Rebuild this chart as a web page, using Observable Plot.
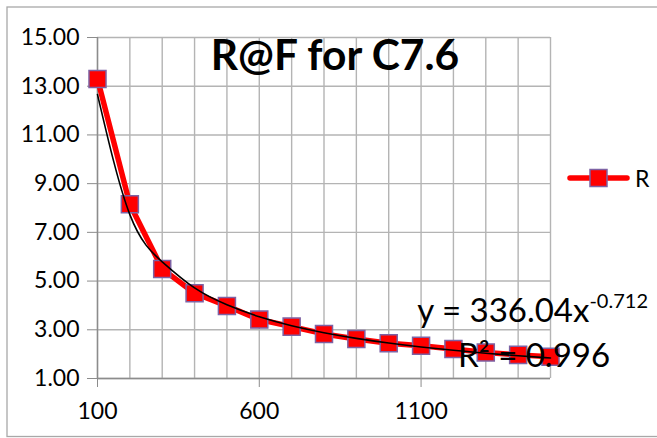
<!DOCTYPE html>
<html>
<head>
<meta charset="utf-8">
<script src="https://cdn.jsdelivr.net/npm/d3@7"></script>
<script src="https://cdn.jsdelivr.net/npm/@observablehq/plot@0.6"></script>
<style>
  html, body { margin: 0; padding: 0; background: #fff; }
  #chart { width: 657px; height: 438px; }
</style>
</head>
<body>
<div id="chart"></div>
<script>
// ---- data ----
const xValues = [100, 200, 300, 400, 500, 600, 700, 800, 900, 1000, 1100, 1200, 1300, 1400, 1500];
const rValues = [13.3, 8.15, 5.5, 4.5, 3.98, 3.42, 3.13, 2.83, 2.62, 2.45, 2.34, 2.21, 2.07, 1.97, 1.89];
const seriesName = "R";
const xTickLabels = [100, 600, 1100];
const xGridLines = [100, 200, 300, 400, 500, 600, 700, 800, 900, 1000, 1100, 1200, 1300, 1400, 1500];
const yTickLabels = [1, 3, 5, 7, 9, 11, 13, 15];
const trendA = 336.04;
const trendB = -0.712;
const trendR2 = 0.996;
const titleText = "R@F for C7.6";

const data = xValues.map((x, i) => ({x, r: rValues[i]}));
const trend = xValues.map(x => ({x, y: trendA * Math.pow(x, trendB)}));

const font = "Lato, 'Open Sans', sans-serif";

const plot = Plot.plot({
  width: 657,
  height: 438,
  marginLeft: 97,
  marginRight: 107,
  marginTop: 37,
  marginBottom: 60,
  style: {fontFamily: font, background: "#fff", color: "#000"},
  x: {domain: [100, 1500]},
  y: {domain: [1, 15]},
  marks: [
    Plot.gridX(xGridLines, {stroke: "#b4b4b4", strokeOpacity: 1, strokeWidth: 1.4}),
    Plot.gridY(yTickLabels, {stroke: "#b4b4b4", strokeOpacity: 1, strokeWidth: 1.4}),
    Plot.ruleX([100], {stroke: "#8c8c8c", strokeWidth: 1.4}),
    Plot.ruleY([1], {stroke: "#8c8c8c", strokeWidth: 1.4}),
    Plot.axisX(xTickLabels, {tickSize: 9, tickPadding: 15, stroke: "#8c8c8c", fontSize: 23, tickFormat: d => String(d), label: null}),
    Plot.axisY(yTickLabels, {tickSize: 10, tickPadding: 8, stroke: "#8c8c8c", fontSize: 23, tickFormat: d => d.toFixed(2), label: null}),
    Plot.line(data, {x: "x", y: "r", stroke: "#ff0000", strokeWidth: 5.5}),
    Plot.dot(data, {x: "x", y: "r", symbol: "square", r: 9.6, fill: "#ff0000", stroke: "#7d62a4", strokeWidth: 1.5}),
    Plot.line(trend, {x: "x", y: "y", stroke: "#000", strokeWidth: 1.6, curve: "natural"})
  ]
});

const svg = d3.select(plot);

// chart-area border
svg.insert("rect", ":first-child")
  .attr("x", 7).attr("y", 7).attr("width", 700).attr("height", 429.5)
  .attr("fill", "none").attr("stroke", "#a8a8a8").attr("stroke-width", 1.3);

// title
svg.append("text")
  .attr("x", 335).attr("y", 70)
  .attr("text-anchor", "middle")
  .attr("font-family", font).attr("font-weight", "bold").attr("font-size", 42.5)
  .attr("fill", "#000")
  .text(titleText);

// trendline equation
const eq = svg.append("text")
  .attr("x", 648).attr("y", 322)
  .attr("text-anchor", "end")
  .attr("font-family", font).attr("font-size", 33).attr("fill", "#000");
eq.append("tspan").text(`y = ${trendA}x`);
eq.append("tspan").attr("dy", -14).attr("font-size", 20).text(String(trendB));

svg.append("text")
  .attr("x", 458).attr("y", 367)
  .attr("text-anchor", "start")
  .attr("font-family", font).attr("font-size", 33).attr("fill", "#000")
  .text(`R² = ${trendR2}`);

// legend
const lg = svg.append("g");
lg.append("line").attr("x1", 570).attr("x2", 627).attr("y1", 178).attr("y2", 178)
  .attr("stroke", "#ff0000").attr("stroke-width", 5.5).attr("stroke-linecap", "round");
lg.append("rect").attr("x", 590).attr("y", 169.5).attr("width", 17).attr("height", 17)
  .attr("fill", "#ff0000").attr("stroke", "#7d62a4").attr("stroke-width", 1.5);
lg.append("text").attr("x", 635).attr("y", 187)
  .attr("text-anchor", "start")
  .attr("font-family", font).attr("font-size", 23).attr("fill", "#000")
  .text(seriesName);

document.getElementById("chart").appendChild(plot);
</script>
</body>
</html>
